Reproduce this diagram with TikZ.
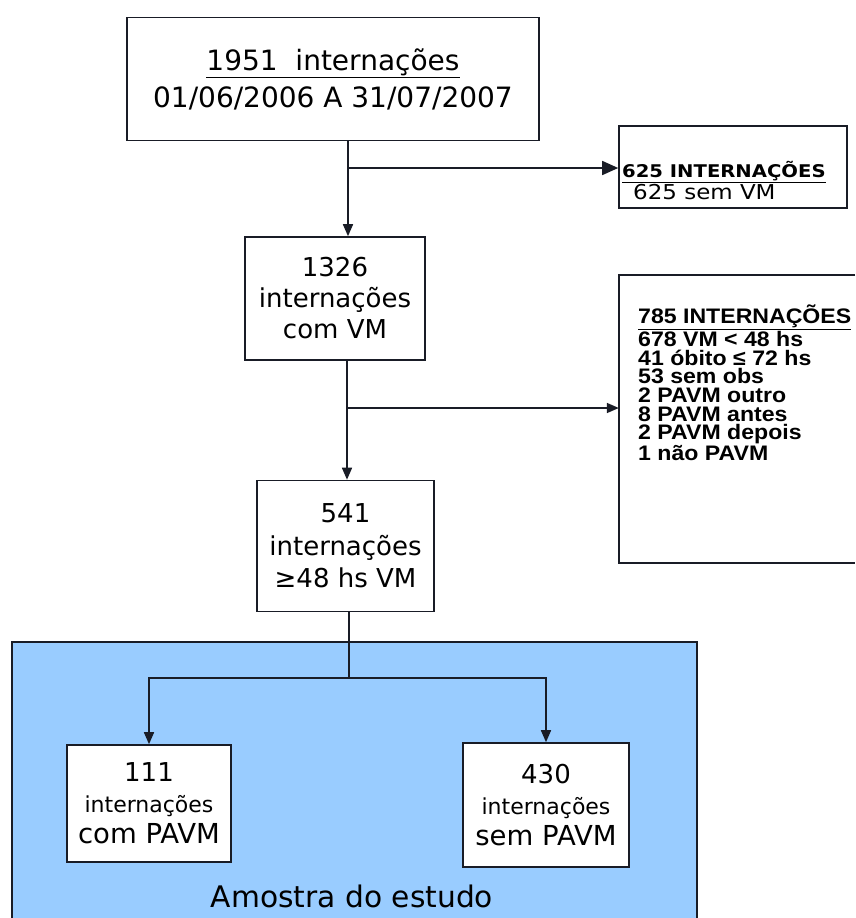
\documentclass[tikz,border=0pt]{standalone}
\usepackage{fontspec}
\setmainfont{DejaVu Sans}
\newfontfamily\arialw{Liberation Sans}[FakeStretch=1.1]
\newfontfamily\dvw{DejaVu Sans}[FakeStretch=1.12]
\usetikzlibrary{arrows.meta}
\definecolor{sampleblue}{RGB}{153,204,255}
\definecolor{ink}{RGB}{25,28,38}
\begin{document}
\begin{tikzpicture}[x=1pt,y=-1pt,
  box/.style={draw=ink,line width=1.6pt,fill=white,inner sep=0pt,align=center},
  conn/.style={draw=ink,line width=1.6pt},
  arr/.style={conn,-{Triangle[length=12pt,width=10pt]}},
  bigarr/.style={conn,-{Triangle[length=16pt,width=14pt]}},
]
\useasboundingbox (0,0) rectangle (855,918);
\fill[white] (0,0) rectangle (855,918);

% sample region
\node[fill=sampleblue,draw=none,inner sep=0pt,minimum width=685pt,minimum height=276pt] (sample) at (354.5,780) {};
\draw[conn] (sample.south west) -- (sample.north west) -- (sample.north east) -- (sample.south east);
\node[anchor=base,inner sep=0pt,font=\fontsize{29.7}{34}\selectfont] (lbl) at (352,907) {Amostra do estudo};

% boxes
\node[box,minimum width=412pt,minimum height=123pt,font=\fontsize{28}{37}\selectfont] (top) at (333,79)
  {\underline{1951\ \ internações}\\01/06/2006 A 31/07/2007};

\node[box,minimum width=228pt,minimum height=82pt] (b625) at (733,167) {};
\node[anchor=base west,inner sep=0pt,font=\dvw\bfseries\fontsize{17.5}{20}\selectfont] (t625a) at (622,177) {\underline{625 INTERNAÇÕES}};
\node[anchor=base west,inner sep=0pt,font=\dvw\fontsize{20.5}{24}\selectfont] (t625b) at (633,199) {625 sem VM};

\node[box,minimum width=180pt,minimum height=123pt,font=\fontsize{26}{31}\selectfont] (b1326) at (335,298.5)
  {1326\\internações\\com VM};

\node[box,minimum width=177pt,minimum height=131pt,font=\fontsize{26}{32.5}\selectfont] (b541) at (345.5,546)
  {541\\internações\\≥48 hs VM};

\node[fill=white,draw=none,inner sep=0pt,minimum width=236pt,minimum height=288pt] (b785) at (737,419) {};
\draw[conn] (b785.north east) -- (b785.north west) -- (b785.south west) -- (b785.south east);
\node[anchor=north west,inner sep=0pt,align=left,font=\arialw\bfseries\fontsize{21}{18.7}\selectfont] (t785) at (638,305)
  {\underline{785 INTERNAÇÕES}\\678 VM < 48 hs\\41 óbito ≤ 72 hs\\53 sem obs\\2 PAVM outro\\8 PAVM antes\\2 PAVM depois\\1 não PAVM};

\node[box,minimum width=164pt,minimum height=117pt,font=\fontsize{26}{31}\selectfont] (b111) at (149,803.5)
  {111\\\fontsize{22}{31}\selectfont internações\\\fontsize{27.5}{31}\selectfont com PAVM};
\node[box,minimum width=166pt,minimum height=124pt,font=\fontsize{26}{31}\selectfont] (b430) at (546,805)
  {430\\\fontsize{22}{31}\selectfont internações\\\fontsize{27.5}{31}\selectfont sem PAVM};

% connectors
\coordinate (j1) at (348,168);
\draw[arr] (top.south -| j1) -- (b1326.north -| j1);
\draw[bigarr] (j1) -- (b625.west |- j1);
\coordinate (j2) at (347,408);
\draw[arr] (b1326.south -| j2) -- (b541.north -| j2);
\draw[arr] (j2) -- (b785.west |- j2);
\coordinate (j3) at (349,678);
\draw[conn] (b541.south -| j3) -- (j3);
\draw[arr] (j3) -| (b111.north);
\draw[arr] (j3) -| (b430.north);
\end{tikzpicture}
\end{document}
